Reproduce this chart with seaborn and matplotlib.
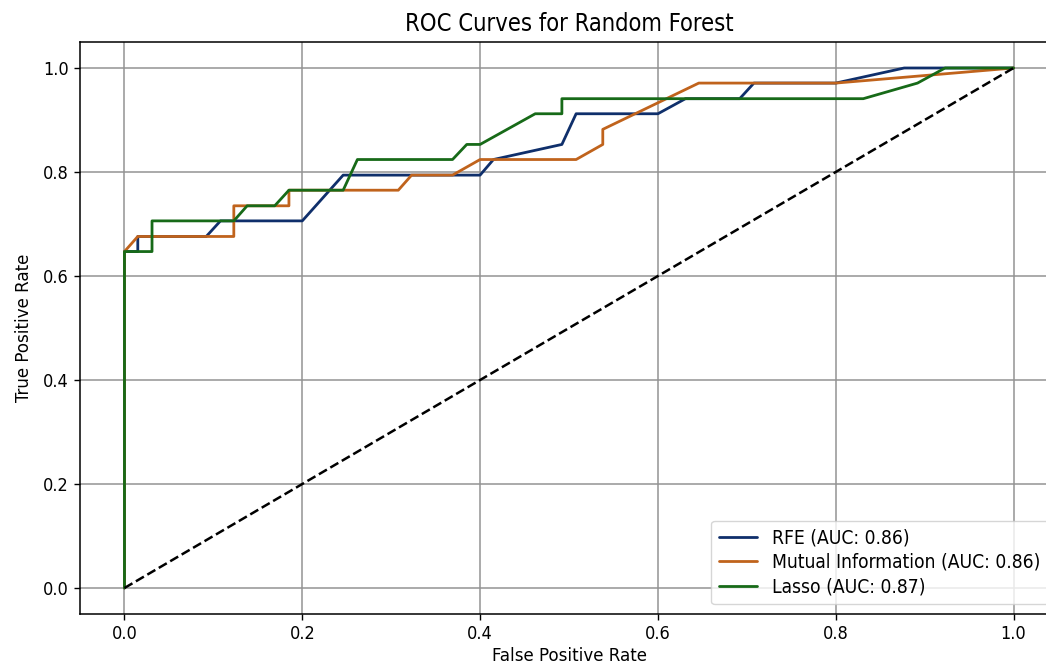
import matplotlib
matplotlib.use("Agg")
import matplotlib.pyplot as plt
import seaborn as sns
import pandas as pd

# ---- data ----
rfe_fpr = [0.0, 0.0, 0.015, 0.015, 0.092, 0.108, 0.200, 0.246, 0.400, 0.415, 0.492, 0.508,
           0.600, 0.631, 0.692, 0.708, 0.800, 0.877, 1.0]
rfe_tpr = [0.0, 0.647, 0.647, 0.676, 0.676, 0.706, 0.706, 0.794, 0.794, 0.824, 0.853, 0.912,
           0.912, 0.941, 0.941, 0.971, 0.971, 1.0, 1.0]

mi_fpr = [0.0, 0.0, 0.015, 0.123, 0.123, 0.185, 0.185, 0.308, 0.323, 0.369, 0.400, 0.508,
          0.538, 0.538, 0.646, 0.800, 1.0]
mi_tpr = [0.0, 0.647, 0.676, 0.676, 0.735, 0.735, 0.765, 0.765, 0.794, 0.794, 0.824, 0.824,
          0.853, 0.882, 0.971, 0.971, 1.0]

lasso_fpr = [0.0, 0.0, 0.031, 0.031, 0.123, 0.138, 0.169, 0.185, 0.246, 0.262, 0.369, 0.385,
             0.400, 0.462, 0.492, 0.492, 0.831, 0.892, 0.923, 1.0]
lasso_tpr = [0.0, 0.647, 0.647, 0.706, 0.706, 0.735, 0.735, 0.765, 0.765, 0.824, 0.824, 0.853,
             0.853, 0.912, 0.912, 0.941, 0.941, 0.971, 1.0, 1.0]

chance_x = [0.0, 1.0]
chance_y = [0.0, 1.0]

labels = ["RFE (AUC: 0.86)", "Mutual Information (AUC: 0.86)", "Lasso (AUC: 0.87)"]
colors = ["#0f2f6b", "#c0631c", "#176a18"]

title = "ROC Curves for Random Forest"
xlabel = "False Positive Rate"
ylabel = "True Positive Rate"

# ---- figure ----
sns.set_style("white")
plt.rcParams["font.family"] = ["DejaVu Sans"]
plt.rcParams["font.stretch"] = "condensed"
plt.rcParams["text.color"] = "black"
plt.rcParams["axes.labelcolor"] = "black"
plt.rcParams["xtick.color"] = "black"
plt.rcParams["ytick.color"] = "black"

fig = plt.figure(figsize=(10.46, 6.67), dpi=100)
ax = fig.add_axes([80 / 1046, 53 / 667, 978 / 1046, 572 / 667])

series = [(rfe_fpr, rfe_tpr), (mi_fpr, mi_tpr), (lasso_fpr, lasso_tpr)]
for (fx, ty), lab, col in zip(series, labels, colors):
    df = pd.DataFrame({"fpr": fx, "tpr": ty})
    sns.lineplot(data=df, x="fpr", y="tpr", sort=False, estimator=None,
                 color=col, linewidth=2.0, label=lab, ax=ax)

sns.lineplot(x=chance_x, y=chance_y, color="black", linestyle="--",
             linewidth=1.8, ax=ax)

ax.set_xlim(-0.05, 1.05)
ax.set_ylim(-0.05, 1.05)
ax.set_xticks([0.0, 0.2, 0.4, 0.6, 0.8, 1.0])
ax.set_yticks([0.0, 0.2, 0.4, 0.6, 0.8, 1.0])

ax.grid(True, color="#939393", linewidth=1.1)
ax.set_axisbelow(True)
for sp in ax.spines.values():
    sp.set_color("black")
    sp.set_linewidth(1.1)

ax.tick_params(axis="both", which="major", labelsize=13, direction="out",
               length=4.5, width=1.0, color="black", pad=3.5, bottom=True, left=True)

ax.set_title(title, fontsize=17, pad=8)
ax.set_xlabel(xlabel, fontsize=13.3, labelpad=3)
ax.set_ylabel(ylabel, fontsize=13.3, labelpad=7)

ax.legend(loc="lower right", fontsize=13.8, frameon=True, framealpha=0.8,
          edgecolor="#cccccc", fancybox=True, labelspacing=0.3)

fig.savefig("out.png", dpi=100)
